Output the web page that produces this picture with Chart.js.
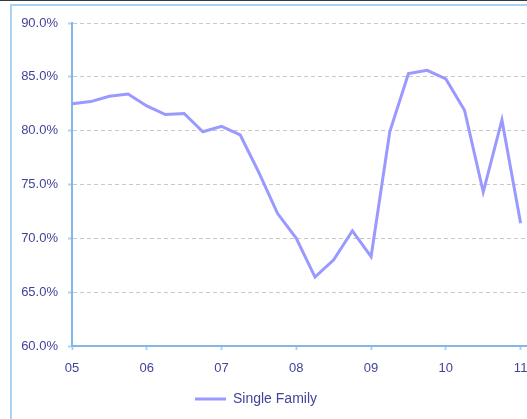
<!DOCTYPE html>
<html>
<head>
<meta charset="utf-8">
<script src="https://cdn.jsdelivr.net/npm/chart.js@4.4.1/dist/chart.umd.min.js"></script>
<style>
  body { margin: 0; width: 527px; height: 419px; overflow: hidden; background: #fff; position: relative; }
  #topline { position: absolute; left: 0; top: 0; width: 527px; height: 1px; background: #3a3a3a; }
  #frame { position: absolute; left: 10px; top: 4px; width: 600px; height: 500px; border-left: 2px solid #a9d2f3; border-top: 2px solid #a9d2f3; }
  #wrap { position: absolute; left: 0; top: 0; width: 558px; height: 419px; }
</style>
</head>
<body>
<div id="topline"></div>
<div id="frame"></div>
<div id="wrap"><canvas id="lineChart"></canvas></div>
<script>
// trimestres (année + trimestre)
const quarters = [
    '05Q1','05Q2','05Q3','05Q4',
    '06Q1','06Q2','06Q3','06Q4',
    '07Q1','07Q2','07Q3','07Q4',
    '08Q1','08Q2','08Q3','08Q4',
    '09Q1','09Q2','09Q3','09Q4',
    '10Q1','10Q2','10Q3','10Q4',
    '11Q1'
];
// valeurs en %
const singleFamily = [
    82.5, 82.7, 83.2, 83.4,
    82.3, 81.5, 81.6, 79.9,
    80.4, 79.6, 76.1, 72.3,
    70.0, 66.4, 68.0, 70.7,
    68.3, 79.9, 85.3, 85.6,
    84.8, 81.9, 74.3, 81.0,
    71.4
];
const yTicks = [60, 65, 70, 75, 80, 85, 90];
const xYears = ['05','06','07','08','09','10','11'];

const textColor = '#43439a';
const axisColor = '#84b6e8';

function quarterToX(q) {
    return 2000 + parseInt(q.slice(0, 2)) + (parseInt(q.slice(3)) - 1) / 4;
}

// décale la légende vers la gauche
const legendShift = {
    id: 'legendShift',
    afterLayout(chart) {
        chart.legend.left -= 23;
        chart.legend.right -= 23;
    }
};

let ctx = document.getElementById('lineChart').getContext('2d');
new Chart(ctx, {
    type: 'line',
    data: {
        datasets: [{
            label: 'Single Family',
            data: quarters.map((q, i) => ({x: quarterToX(q), y: singleFamily[i]})),
            borderColor: '#9999ff',
            backgroundColor: '#9999ff',
            borderWidth: 3,
            pointRadius: 0,
            tension: 0
        }]
    },
    options: {
        responsive: true,
        maintainAspectRatio: false,
        animation: false,
        layout: { padding: { top: 23, bottom: 3, left: 0, right: 0 } },
        scales: {
            x: {
                type: 'linear',
                min: 2005,
                max: 2011.5,
                afterFit: s => { s.height = 36; },
                afterBuildTicks: s => { s.ticks = xYears.map(y => ({value: 2000 + parseInt(y)})); },
                ticks: {
                    padding: 11,
                    color: textColor,
                    font: { family: 'Liberation Sans, Arial', size: 13 },
                    autoSkip: false,
                    maxRotation: 0,
                    callback: v => xYears[Math.round(v) - 2005]
                },
                grid: { drawOnChartArea: false, drawTicks: true, tickLength: 4, tickColor: '#a9d2f3', tickWidth: 2 },
                border: { color: axisColor, width: 2 }
            },
            y: {
                min: 60,
                max: 90,
                afterFit: s => { s.width = 72; },
                afterBuildTicks: s => { s.ticks = yTicks.map(v => ({value: v})); },
                ticks: {
                    padding: 10,
                    color: textColor,
                    font: { family: 'Liberation Sans, Arial', size: 13 },
                    callback: v => v.toFixed(1) + '%'
                },
                grid: { color: '#c8c8c8', lineWidth: 1, tickLength: 4, tickColor: '#a9d2f3', tickWidth: 2, tickBorderDash: [] },
                border: { color: axisColor, width: 2, dash: [4, 3] }
            }
        },
        plugins: {
            legend: {
                position: 'bottom',
                labels: {
                    usePointStyle: true,
                    pointStyle: 'line',
                    pointStyleWidth: 31,
                    color: textColor,
                    font: { family: 'Liberation Sans, Arial', size: 14 },
                    padding: 10
                }
            },
            tooltip: { enabled: false }
        }
    },
    plugins: [legendShift]
});
</script>
</body>
</html>
